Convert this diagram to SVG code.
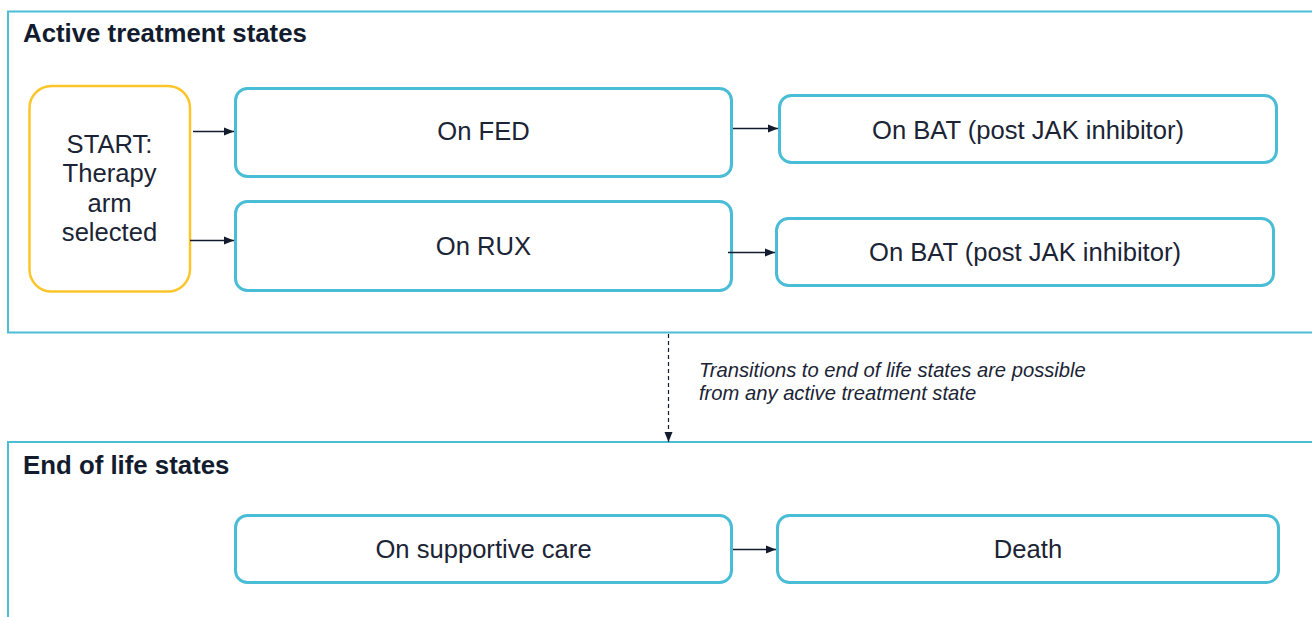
<svg xmlns="http://www.w3.org/2000/svg" width="1312" height="617" viewBox="0 0 1312 617">
<style>
.grp{fill:none;stroke:#4BBDD5;stroke-width:2}
.node{fill:#fff;stroke:#49BDD6;stroke-width:3}
.start{fill:#fff;stroke:#FCC52A;stroke-width:2.5}
.title{font-family:"Liberation Sans",Arial,sans-serif;font-weight:bold;font-size:25.8px;fill:#131C2E}
.lbl{font-family:"Liberation Sans",Arial,sans-serif;font-size:25.6px;fill:#1B2435;text-anchor:middle}
.note{font-family:"Liberation Sans",Arial,sans-serif;font-style:italic;font-size:20.2px;fill:#1B2435}
.edge{stroke:#131C2E;stroke-width:1.3;fill:none;marker-end:url(#ah)}
.dash{stroke:#131C2E;stroke-width:1.2;fill:none;stroke-dasharray:4 3;marker-end:url(#ah)}
</style>
<defs>
<marker id="ah" viewBox="0 0 10 10" refX="10" refY="5" markerWidth="10" markerHeight="10" markerUnits="userSpaceOnUse" orient="auto">
<path d="M0,1 L10,5 L0,9 Z" fill="#131C2E"/>
</marker>
</defs>
<rect width="1312" height="617" fill="#fff"/>
<g id="group-active">
<rect class="grp" x="8" y="11.5" width="1320" height="321"/>
<text class="title" x="23" y="42">Active treatment states</text>
</g>
<g id="group-endoflife">
<rect class="grp" x="8" y="442" width="1320" height="200"/>
<text class="title" x="23" y="474">End of life states</text>
</g>
<g id="node-start">
<rect class="start" x="29.5" y="86" width="160.5" height="205.5" rx="22"/>
<text class="lbl" x="109.5" y="152.5">START:</text>
<text class="lbl" x="109.5" y="182">Therapy</text>
<text class="lbl" x="109.5" y="211.5">arm</text>
<text class="lbl" x="109.5" y="241">selected</text>
</g>
<g id="node-fed">
<rect class="node" x="235.5" y="88.5" width="496" height="88" rx="12"/>
<text class="lbl" x="483.5" y="140">On FED</text>
</g>
<g id="node-rux">
<rect class="node" x="235.5" y="201.5" width="496" height="89" rx="12"/>
<text class="lbl" x="483.5" y="255">On RUX</text>
</g>
<g id="node-bat1">
<rect class="node" x="779.5" y="95.5" width="497" height="67" rx="12"/>
<text class="lbl" x="1028" y="138.5">On BAT (post JAK inhibitor)</text>
</g>
<g id="node-bat2">
<rect class="node" x="776.5" y="218.5" width="497" height="67" rx="12"/>
<text class="lbl" x="1025" y="261">On BAT (post JAK inhibitor)</text>
</g>
<g id="node-supportive">
<rect class="node" x="235.5" y="515.5" width="496" height="67" rx="12"/>
<text class="lbl" x="483.5" y="558">On supportive care</text>
</g>
<g id="node-death">
<rect class="node" x="777.5" y="515.5" width="501" height="67" rx="12"/>
<text class="lbl" x="1028" y="558">Death</text>
</g>
<g id="note">
<text class="note" x="699" y="377">Transitions to end of life states are possible</text>
<text class="note" x="699" y="400">from any active treatment state</text>
</g>
<g id="connectors">
<path class="edge" d="M193,131.5 H234"/>
<path class="edge" d="M190,240.5 H234"/>
<path class="edge" d="M733,128.5 H778"/>
<path class="edge" d="M728,252.5 H775"/>
<path class="edge" d="M733,549.5 H776"/>
<path class="dash" d="M668.5,334 V442"/>
</g>
</svg>
